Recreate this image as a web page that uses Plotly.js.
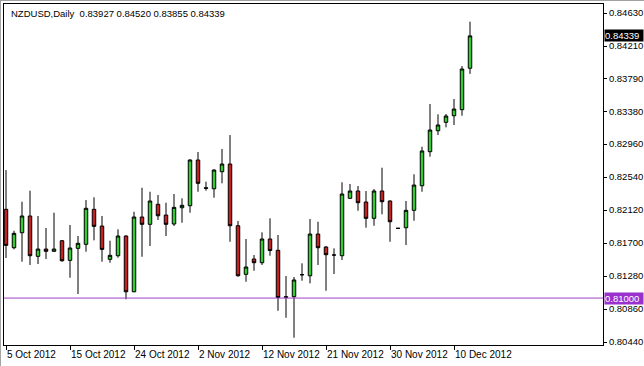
<!DOCTYPE html>
<html>
<head>
<meta charset="utf-8">
<script src="https://cdn.plot.ly/plotly-3.0.1.min.js"></script>
<style>
html,body{margin:0;padding:0;background:#fff;}
#chart{width:644px;height:366px;}
</style>
</head>
<body>
<div id="chart"></div>
<script>
// ---- data (NZDUSD daily) ----
const symbol = 'NZDUSD,Daily';
const dates = [
 '2012-10-05','2012-10-07','2012-10-08','2012-10-09','2012-10-10','2012-10-11','2012-10-12',
 '2012-10-14','2012-10-15','2012-10-16','2012-10-17','2012-10-18','2012-10-19',
 '2012-10-21','2012-10-22','2012-10-23','2012-10-24','2012-10-25','2012-10-26',
 '2012-10-28','2012-10-29','2012-10-30','2012-10-31','2012-11-01','2012-11-02',
 '2012-11-04','2012-11-05','2012-11-06','2012-11-07','2012-11-08','2012-11-09',
 '2012-11-11','2012-11-12','2012-11-13','2012-11-14','2012-11-15','2012-11-16',
 '2012-11-18','2012-11-19','2012-11-20','2012-11-21','2012-11-22','2012-11-23',
 '2012-11-25','2012-11-26','2012-11-27','2012-11-28','2012-11-29','2012-11-30',
 '2012-12-02','2012-12-03','2012-12-04','2012-12-05','2012-12-06','2012-12-07',
 '2012-12-09','2012-12-10','2012-12-11','2012-12-12'
];
const open = [
 0.82130,0.81641,0.81832,0.82045,0.81531,0.81624,0.81595,
 0.81730,0.81480,0.81633,0.81684,0.82130,0.81917,
 0.81493,0.81539,0.81790,0.81080,0.82032,0.81939,
 0.82194,0.82057,0.81943,0.82150,0.82176,0.82758,
 0.82405,0.82392,0.82609,0.82707,0.81921,0.81302,
 0.81497,0.81450,0.81752,0.81608,0.81017,0.81017,
 0.81297,0.81284,0.81815,0.81650,0.81548,0.81539,
 0.82270,0.82363,0.82223,0.82015,0.82363,0.82236,
 0.81888,0.81896,0.82117,0.82430,0.82864,0.83131,
 0.83238,0.83322,0.83399,0.83927
];
const high = [
 0.82630,0.81857,0.82227,0.82367,0.82045,0.81892,0.82087,
 0.81739,0.81930,0.81790,0.82248,0.82283,0.82045,
 0.81730,0.81875,0.81800,0.82099,0.82405,0.82354,
 0.82312,0.82214,0.82325,0.82270,0.82767,0.82860,
 0.82482,0.82640,0.82898,0.83076,0.81981,0.81752,
 0.81548,0.81837,0.82015,0.81803,0.81280,0.81268,
 0.81442,0.82006,0.81972,0.81662,0.81633,0.82474,
 0.82452,0.82427,0.82363,0.82389,0.82660,0.82245,
 0.81892,0.82236,0.82576,0.82927,0.83471,0.83340,
 0.83344,0.83535,0.83955,0.84520
];
const low = [
 0.81510,0.81620,0.81463,0.81421,0.81433,0.81497,0.81590,
 0.81463,0.81259,0.81051,0.81590,0.81735,0.81463,
 0.81450,0.81514,0.80984,0.81075,0.81526,0.81662,
 0.81994,0.81790,0.81917,0.81959,0.82087,0.82354,
 0.82367,0.82278,0.82461,0.81717,0.81272,0.81208,
 0.81348,0.81421,0.81539,0.80838,0.80749,0.80495,
 0.81221,0.81187,0.81421,0.81093,0.81306,0.81484,
 0.82265,0.82112,0.81896,0.81921,0.82066,0.81717,
 0.81884,0.81675,0.81985,0.82354,0.82800,0.83076,
 0.83174,0.83204,0.83322,0.83855
];
const close = [
 0.81671,0.81824,0.82045,0.81539,0.81624,0.81595,0.81624,
 0.81475,0.81637,0.81697,0.82143,0.81913,0.81620,
 0.81544,0.81790,0.81080,0.82032,0.81939,0.82236,
 0.82048,0.81939,0.82155,0.82181,0.82758,0.82461,
 0.82398,0.82630,0.82707,0.81921,0.81284,0.81395,
 0.81450,0.81752,0.81605,0.81007,0.81010,0.81230,
 0.81297,0.81815,0.81641,0.81552,0.81548,0.82325,
 0.82363,0.82214,0.82015,0.82363,0.82227,0.81972,
 0.81888,0.82117,0.82439,0.82873,0.83140,0.83204,
 0.83318,0.83407,0.83917,0.84339
];
const xTickDates = ['2012-10-05','2012-10-15','2012-10-24','2012-11-02','2012-11-12','2012-11-21','2012-11-30','2012-12-10'];
const xTickLabels = ['5 Oct 2012','15 Oct 2012','24 Oct 2012','2 Nov 2012','12 Nov 2012','21 Nov 2012','30 Nov 2012','10 Dec 2012'];
const yTickValues = [0.84630,0.84210,0.83790,0.83380,0.82960,0.82540,0.82120,0.81700,0.81280,0.80860,0.80440];
const levelLine = 0.81000;

// ---- drawing ----
const last = dates.length - 1;
const headerText = symbol + '\u00a0\u00a0' + [open[last], high[last], low[last], close[last]].map(v => v.toFixed(5)).join(' ');
const FONT = 'Liberation Sans, Arial, sans-serif';

const trace = {
  type: 'candlestick',
  x: dates, open: open, high: high, low: low, close: close,
  increasing: {line: {color: '#000000', width: 1}, fillcolor: '#32CD32'},
  decreasing: {line: {color: '#000000', width: 1}, fillcolor: '#C42121'},
  whiskerwidth: 0,
  hoverinfo: 'skip',
  showlegend: false
};

const layout = {
  width: 644, height: 366,
  margin: {l: 4, r: 41, t: 4, b: 21, pad: 0},
  paper_bgcolor: '#ffffff', plot_bgcolor: '#ffffff',
  boxgap: 0.38,
  font: {family: FONT, size: 10, color: '#000000'},
  xaxis: {
    type: 'category',
    range: [-0.25, 74.625],
    rangeslider: {visible: false},
    showgrid: false, zeroline: false,
    showline: true, mirror: true, linecolor: '#000000', linewidth: 1,
    ticks: 'outside', ticklen: 4, tickcolor: '#000000', tickwidth: 1,
    tickvals: xTickDates, ticktext: xTickLabels,
    tickangle: 0,
    ticklabelposition: 'outside right',
    tickfont: {family: FONT, size: 10, color: '#000000'},
    fixedrange: true
  },
  yaxis: {
    side: 'right',
    range: [0.80402, 0.84745],
    showgrid: false, zeroline: false,
    showline: true, mirror: true, linecolor: '#000000', linewidth: 1,
    ticks: 'outside', ticklen: 3, tickcolor: '#000000', tickwidth: 1,
    tickvals: yTickValues, tickformat: '.5f',
    tickfont: {family: FONT, size: 9.5, color: '#000000'},
    fixedrange: true
  },
  shapes: [
    {type: 'line', xref: 'paper', yref: 'y', x0: 0, x1: 1, y0: levelLine, y1: levelLine,
     line: {color: '#A040C8', width: 1}},
    {type: 'line', xref: 'paper', yref: 'paper', x0: -0.0067, x1: 1.07, y0: 1.0103, y1: 1.0103,
     line: {color: '#a0a0a0', width: 1}},
    {type: 'line', xref: 'paper', yref: 'paper', x0: -0.0059, x1: -0.0059, y0: -0.07, y1: 1.0117,
     line: {color: '#a0a0a0', width: 1}}
  ],
  annotations: [
    {xref: 'paper', yref: 'paper', x: 0.0085, y: 0.9736, xanchor: 'left', yanchor: 'middle',
     text: headerText, showarrow: false, font: {family: FONT, size: 9.5, color: '#000000'}},
    {xref: 'paper', yref: 'y', x: 1, y: close[last], xanchor: 'left', yanchor: 'middle', xshift: 1,
     text: close[last].toFixed(5), showarrow: false, bgcolor: '#000000', borderpad: 0,
     width: 38, height: 11, align: 'left',
     font: {family: FONT, size: 9.5, color: '#ffffff'}},
    {xref: 'paper', yref: 'y', x: 1, y: levelLine, xanchor: 'left', yanchor: 'middle', xshift: 1,
     text: levelLine.toFixed(5), showarrow: false, bgcolor: '#9932CC', borderpad: 0,
     width: 38, height: 11, align: 'left',
     font: {family: FONT, size: 9.5, color: '#ffffff'}}
  ]
};

Plotly.newPlot('chart', [trace], layout, {staticPlot: true, displayModeBar: false});
</script>
</body>
</html>
